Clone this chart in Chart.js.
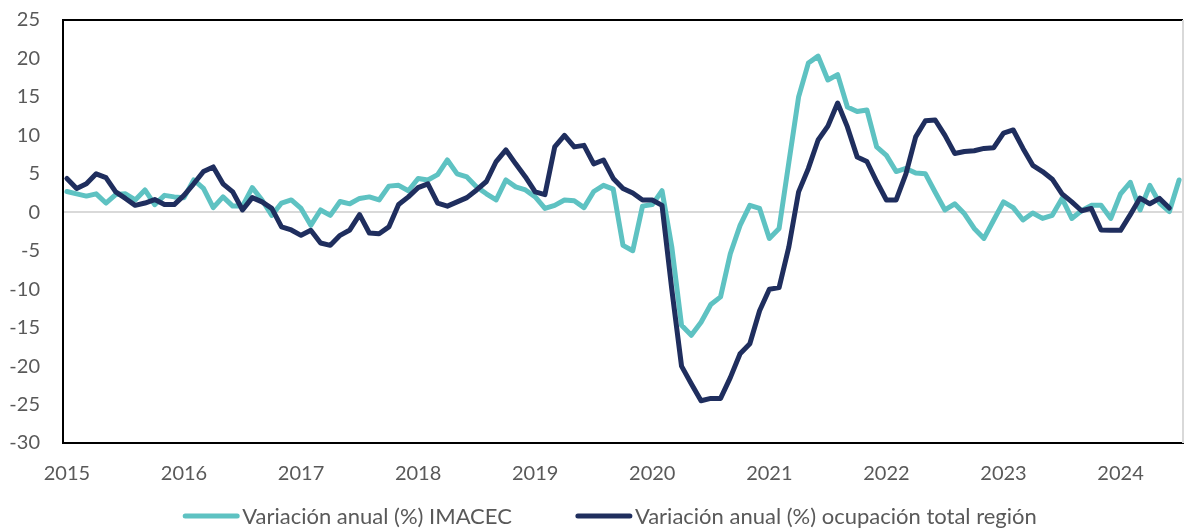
<!DOCTYPE html>
<html lang="es">
<head>
<meta charset="utf-8">
<title>Variación anual IMACEC y ocupación</title>
<script src="https://cdn.jsdelivr.net/npm/chart.js@4.4.1/dist/chart.umd.min.js"></script>
<style>
  html, body { margin: 0; padding: 0; background: #fff; }
  #wrap { width: 1185px; height: 528px; position: relative; }
</style>
</head>
<body>
<div id="wrap"><canvas id="grafico"></canvas></div>
<script>
// =============================================
// Datos (mensuales, ene-2015 en adelante)
// =============================================

const anioInicio = 2015;
const anios = [2015, 2016, 2017, 2018, 2019, 2020, 2021, 2022, 2023, 2024];

// Variación anual (%) IMACEC — ene-2015 a jul-2024
const imacec = [
  2.7, 2.4, 2.1, 2.4, 1.2, 2.3, 2.4, 1.6, 2.9, 1.0, 2.2, 2.0,
  1.9, 4.2, 3.1, 0.6, 2.0, 0.8, 0.8, 3.2, 1.6, -0.4, 1.2, 1.6,
  0.5, -1.7, 0.3, -0.4, 1.4, 1.1, 1.8, 2.0, 1.6, 3.4, 3.5, 2.8,
  4.4, 4.2, 4.9, 6.8, 5.0, 4.6, 3.3, 2.4, 1.6, 4.2, 3.3, 2.9,
  2.0, 0.5, 0.9, 1.6, 1.5, 0.6, 2.7, 3.5, 3.0, -4.3, -5.0, 0.8,
  1.0, 2.8, -4.5, -14.7, -16.0, -14.3, -12.0, -11.0, -5.4, -1.7, 0.9, 0.5,
  -3.4, -2.1, 6.5, 15.0, 19.4, 20.3, 17.2, 17.9, 13.7, 13.1, 13.3, 8.5,
  7.4, 5.3, 5.7, 5.1, 5.0, 2.6, 0.3, 1.1, -0.2, -2.1, -3.4, -1.0,
  1.35, 0.6, -1.0, -0.1, -0.8, -0.4, 1.8, -0.8, 0.2, 0.9, 0.9, -0.8,
  2.4, 3.9, 0.3, 3.5, 1.2, 0.1, 4.2
];

// Variación anual (%) ocupación total región — ene-2015 a jun-2024
const ocupacion = [
  4.4, 3.1, 3.7, 5.0, 4.5, 2.65, 1.8, 0.9, 1.2, 1.65, 1.0, 1.0,
  2.2, 3.7, 5.3, 5.9, 3.7, 2.65, 0.3, 1.9, 1.35, 0.5, -1.9, -2.3,
  -3.0, -2.35, -4.0, -4.3, -3.0, -2.3, -0.3, -2.7, -2.8, -1.9, 1.0, 2.0,
  3.2, 3.7, 1.2, 0.8, 1.35, 1.9, 2.9, 4.0, 6.6, 8.1, 6.3, 4.6,
  2.65, 2.3, 8.5, 10.0, 8.5, 8.7, 6.3, 6.8, 4.4, 3.1, 2.5, 1.6,
  1.6, 0.9, -10.0, -20.0, -22.3, -24.5, -24.2, -24.2, -21.5, -18.4, -17.1, -12.8,
  -10.0, -9.8, -4.5, 2.65, 5.7, 9.4, 11.2, 14.2, 11.1, 7.2, 6.6, 4.0,
  1.6, 1.6, 5.0, 9.8, 11.9, 12.0, 10.0, 7.65, 7.9, 8.0, 8.3, 8.4,
  10.3, 10.7, 8.3, 6.1, 5.3, 4.3, 2.4, 1.35, 0.2, 0.5, -2.3, -2.35,
  -2.35, -0.3, 1.85, 1.1, 1.8, 0.55
];

const serieImacec = 'Variación anual (%) IMACEC';
const serieOcupacion = 'Variación anual (%) ocupación total región';

// =============================================
// Estilos
// =============================================

const colorImacec = '#5EC2C2';
const colorOcupacion = '#1F2E5E';
const colorTexto = '#595959';
const fuente = 'Lato, "Open Sans", sans-serif';

const aPuntos = arr => arr.map((v, i) => ({ x: i, y: v }));

// leyenda dibujada abajo, como en el original
const leyendaPlugin = {
  id: 'leyendaAbajo',
  afterDraw(chart) {
    const ctx = chart.ctx;
    const items = [
      { texto: serieImacec, color: colorImacec },
      { texto: serieOcupacion, color: colorOcupacion },
    ];
    const y = 516;
    const largo = 56;
    const hueco = 3;
    const separacion = 64;
    ctx.save();
    ctx.font = '22px ' + fuente;
    ctx.textBaseline = 'middle';
    let total = 0;
    items.forEach((it, k) => {
      total += largo + hueco + ctx.measureText(it.texto).width;
      if (k < items.length - 1) total += separacion;
    });
    let x = 610 - total / 2;
    items.forEach(it => {
      ctx.strokeStyle = it.color;
      ctx.lineWidth = 5;
      ctx.lineCap = 'round';
      ctx.beginPath();
      ctx.moveTo(x + 2, y);
      ctx.lineTo(x + largo - 2, y);
      ctx.stroke();
      x += largo + hueco;
      ctx.fillStyle = colorTexto;
      ctx.fillText(it.texto, x, y + 1);
      x += ctx.measureText(it.texto).width + separacion;
    });
    ctx.restore();
  }
};

// marco superior y derecho del área del gráfico
const marcoPlugin = {
  id: 'marco',
  beforeDatasetsDraw(chart) {
    const { ctx, chartArea: a } = chart;
    ctx.save();
    ctx.lineWidth = 2;
    ctx.strokeStyle = '#000';
    ctx.beginPath();
    ctx.moveTo(a.left, a.top);
    ctx.lineTo(a.right, a.top);
    ctx.stroke();
    ctx.strokeStyle = '#D9D9D9';
    ctx.beginPath();
    ctx.moveTo(a.right, a.top);
    ctx.lineTo(a.right, a.bottom);
    ctx.stroke();
    ctx.restore();
  }
};

const ctx = document.getElementById('grafico');

new Chart(ctx, {
  type: 'line',
  data: {
    datasets: [
      {
        label: serieImacec,
        data: aPuntos(imacec),
        borderColor: colorImacec,
        backgroundColor: colorImacec,
        borderWidth: 5,
        pointRadius: 0,
        tension: 0,
        borderJoinStyle: 'round',
        borderCapStyle: 'round',
        order: 2,
      },
      {
        label: serieOcupacion,
        data: aPuntos(ocupacion),
        borderColor: colorOcupacion,
        backgroundColor: colorOcupacion,
        borderWidth: 5,
        pointRadius: 0,
        tension: 0,
        borderJoinStyle: 'round',
        borderCapStyle: 'round',
        order: 1,
      },
    ]
  },
  options: {
    responsive: true,
    maintainAspectRatio: false,
    animation: false,
    layout: { padding: { left: 10, right: 2, top: 20, bottom: 42 } },
    plugins: {
      legend: { display: false },
      tooltip: { enabled: false },
    },
    scales: {
      x: {
        type: 'linear',
        min: -0.4,
        max: 114.4,
        afterBuildTicks: axis => {
          axis.ticks = anios.map(a => ({ value: (a - anioInicio) * 12 }));
        },
        afterFit: s => { s.height = 43; s.paddingLeft = 0; s.paddingRight = 0; },
        grid: { display: false, drawTicks: false },
        border: { display: true, color: '#000', width: 2 },
        ticks: {
          padding: 19,
          color: colorTexto,
          font: { family: fuente, size: 20 },
          maxRotation: 0,
          autoSkip: false,
          callback: v => String(anioInicio + v / 12),
        },
      },
      y: {
        min: -30,
        max: 25,
        afterFit: s => { s.width = 53; s.paddingTop = 0; s.paddingBottom = 0; },
        grid: {
          drawTicks: false,
          color: c => (c.tick && c.tick.value === 0 ? '#D9D9D9' : 'rgba(0,0,0,0)'),
          lineWidth: 2,
        },
        border: { display: true, color: '#000', width: 2 },
        ticks: {
          stepSize: 5,
          padding: 23,
          color: colorTexto,
          font: { family: fuente, size: 20 },
        },
      },
    }
  },
  plugins: [marcoPlugin, leyendaPlugin]
});
</script>
</body>
</html>
